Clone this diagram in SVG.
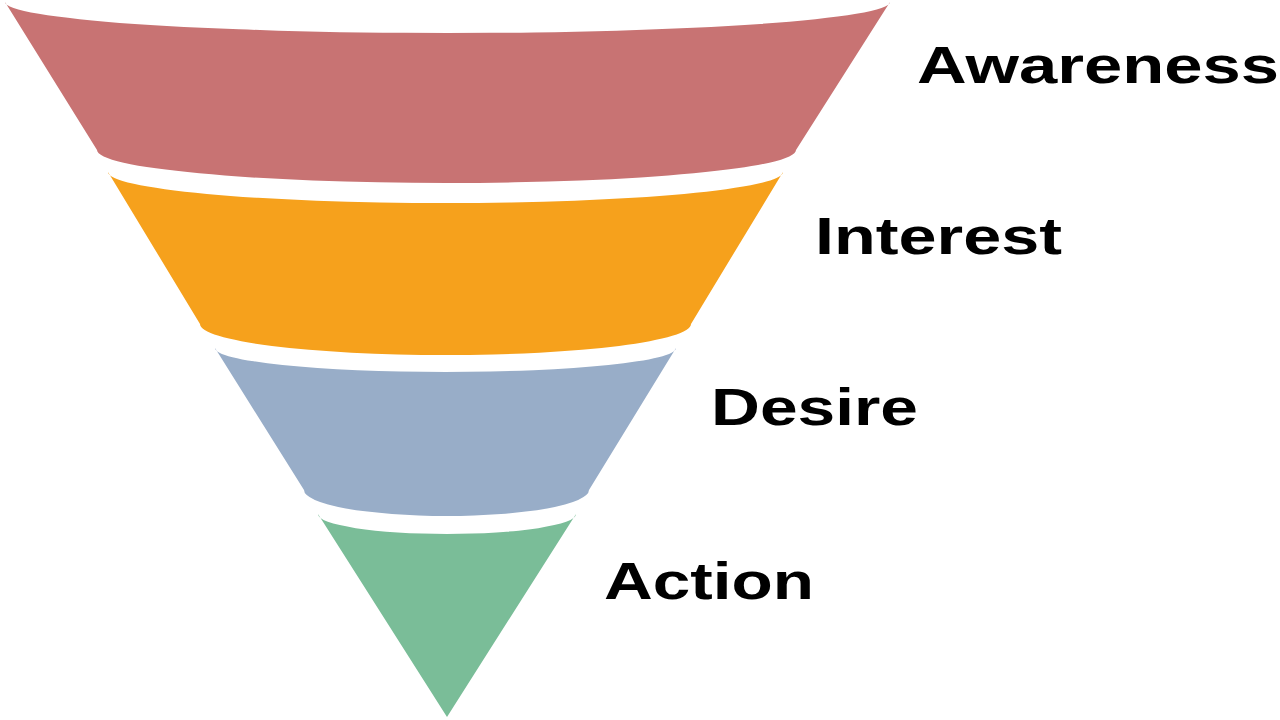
<svg xmlns="http://www.w3.org/2000/svg" width="1280" height="720" viewBox="0 0 1280 720">
<style>
.lbl{font-family:"Liberation Sans",Arial,sans-serif;font-weight:bold;font-size:52px;fill:#000}
</style>
<rect width="1280" height="720" fill="#fff"/>
<g id="awareness">
<path d="M5,2 A442.5,31 0 0 0 890,2 L796,150 A349.5,33 0 0 1 97,150 Z" fill="#C87373"/>
<text class="lbl" x="917" y="83" textLength="362" lengthAdjust="spacingAndGlyphs">Awareness</text>
</g>
<g id="interest">
<path d="M108,172 A337.5,31 0 0 0 783,172 L691,324 A245.5,31 0 0 1 200,324 Z" fill="#F6A11C"/>
<text class="lbl" x="815" y="254" textLength="247" lengthAdjust="spacingAndGlyphs">Interest</text>
</g>
<g id="desire">
<path d="M215,348 A230.5,24 0 0 0 676,348 L589,490 A142.5,26 0 0 1 304,490 Z" fill="#98ADC8"/>
<text class="lbl" x="711" y="425" textLength="207" lengthAdjust="spacingAndGlyphs">Desire</text>
</g>
<g id="action">
<path d="M318,514 A129,20 0 0 0 576,514 L447,717 Z" fill="#7ABD98"/>
<text class="lbl" x="604" y="599" textLength="210" lengthAdjust="spacingAndGlyphs">Action</text>
</g>
<g id="connectors"></g>
</svg>
